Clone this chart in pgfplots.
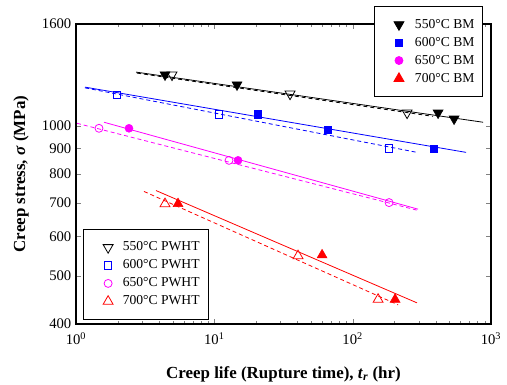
\documentclass[border=0pt]{standalone}
\usepackage{fontspec}
\setmainfont{Liberation Serif}
\usepackage{pgfplots}
\pgfplotsset{compat=1.18}
\definecolor{mblue}{RGB}{0,0,255}
\definecolor{mmag}{RGB}{255,0,255}
\definecolor{mred}{RGB}{255,0,0}
\begin{document}
\begin{tikzpicture}
\useasboundingbox (-57pt,-45.75pt) rectangle (323.25pt,243pt);
% ---------- main axis: PWHT + fit lines ----------
\begin{axis}[
  xmode=log, ymode=log,
  xmin=1, xmax=1000, ymin=400, ymax=1600,
  width=311.25pt, height=225pt, scale only axis,
  at={(0pt,0pt)}, anchor=south west,
  legend cell align=left,
  legend image code/.code={\path[draw=none,fill=none] (-14pt,0pt) -- (9pt,0pt); \draw[#1] plot coordinates {(0pt,0pt)};},
  axis line style={line width=0.8pt},
  tick align=inside,
  major tick length=4pt, minor tick length=2.5pt,
  xtick={1,10,100,1000},
  xticklabels={10\textsuperscript{0},10\textsuperscript{1},10\textsuperscript{2},10\textsuperscript{3}},
  minor xtick={2,3,4,5,6,7,8,9,20,30,40,50,60,70,80,90,200,300,400,500,600,700,800,900},
  ytick={400,500,600,700,800,900,1000,1600},
  yticklabels={400,500,600,700,800,900,1000,1600},
  yminorticks=false,
  tick label style={font=\fontsize{11}{13}\selectfont},
  xticklabel style={yshift=-3pt},
  xlabel={Creep life (Rupture time), \textbf{\textit{t}}\textsubscript{\textbf{\textit{r}}} (hr)},
  ylabel={Creep stress, \textbf{\textit{σ}} (MPa)},
  label style={font=\fontsize{12.7}{15}\selectfont\bfseries},
  xlabel style={at={(axis description cs:0.5,-0.125)}, anchor=north},
  ylabel style={at={(axis description cs:-0.1325,0.5)}, anchor=center},
  legend style={at={(0.017,0.317)}, anchor=north west, draw=black, line width=0.6pt, fill=white,
    font=\fontsize{10.2}{12}\selectfont, inner xsep=4.5pt, inner ysep=7.5pt,
    row sep=1.2pt},
]
% fit lines
\addplot[black, line width=0.6pt, forget plot] coordinates {(2.716,1281) (877,1016)};
\addplot[black, line width=0.6pt, dash pattern=on 3pt off 2.2pt, forget plot] coordinates {(2.761,1275) (381,1044)};
\addplot[mblue, line width=0.6pt, forget plot] coordinates {(1.162,1195) (660,884)};
\addplot[mblue, line width=0.6pt, dash pattern=on 3pt off 2.2pt, forget plot] coordinates {(1.162,1191) (292,884)};
\addplot[mmag, line width=0.6pt, forget plot] coordinates {(1.594,1016) (297,680)};
\addplot[mmag, line width=0.6pt, dash pattern=on 3pt off 2.2pt, forget plot] coordinates {(1.017,1011) (297,676)};
\addplot[mred, line width=0.6pt, forget plot] coordinates {(3.789,741) (292,441)};
\addplot[mred, line width=0.6pt, dash pattern=on 3pt off 2.2pt, forget plot] coordinates {(3.101,738) (213,437)};
% PWHT markers
\addplot[only marks, black, mark=triangle, mark size=4.3pt, mark options={rotate=180, line width=0.6pt}]
  coordinates {(4.945,1265) (35.27,1158) (247.4,1061)};
\addplot[only marks, mblue, mark=square, mark size=2.7pt, mark options={line width=0.6pt}]
  coordinates {(1.979,1151) (10.81,1054) (183.3,900)};
\addplot[only marks, mmag, mark=o, mark size=3pt, mark options={line width=0.6pt}]
  coordinates {(1.466,988) (12.77,852) (183.3,701)};
\addplot[only marks, mred, mark=triangle, mark size=4.3pt, mark options={line width=0.6pt}]
  coordinates {(4.401,697) (40.3,548) (152.7,448)};
\legend{550\textdegree C PWHT, 600\textdegree C PWHT, 650\textdegree C PWHT, 700\textdegree C PWHT}
\end{axis}
% ---------- overlay axis: BM markers ----------
\begin{axis}[
  xmode=log, ymode=log,
  xmin=1, xmax=1000, ymin=400, ymax=1600,
  width=311.25pt, height=225pt, scale only axis,
  at={(0pt,0pt)}, anchor=south west,
  hide axis,
  legend cell align=left,
  legend image code/.code={\path[draw=none,fill=none] (-14pt,0pt) -- (10pt,0pt); \draw[#1] plot coordinates {(0pt,0pt)};},
  legend style={at={(0.981,1.06)}, anchor=north east, draw=black, line width=0.6pt, fill=white,
    font=\fontsize{10.2}{12}\selectfont, inner xsep=4.2pt, inner ysep=7.5pt,
    row sep=1.2pt},
]
\addplot[only marks, black, mark=triangle*, mark size=4.3pt, mark options={rotate=180}]
  coordinates {(4.401,1265) (14.59,1208) (414.5,1061) (541,1032)};
\addplot[only marks, mblue, mark=square*, mark size=2.7pt]
  coordinates {(20.70,1054) (66.4,983) (388,900)};
\addplot[only marks, mmag, mark=*, mark size=3pt]
  coordinates {(2.416,988) (14.84,852)};
\addplot[only marks, mred, mark=triangle*, mark size=4.3pt]
  coordinates {(5.465,697) (60.1,550) (202.6,448)};
\legend{550\textdegree C BM, 600\textdegree C BM, 650\textdegree C BM, 700\textdegree C BM}
\end{axis}
\end{tikzpicture}
\end{document}
